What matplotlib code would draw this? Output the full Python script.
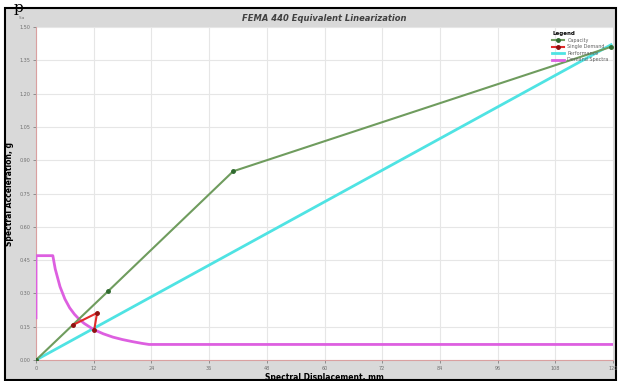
import numpy as np
import matplotlib.pyplot as plt
from matplotlib.patches import Rectangle

# capacity curve (Sd mm, Sa g)
cap_sd = [0, 15.0, 41.0, 119.5]
cap_sa = [0, 0.31, 0.85, 1.41]

# single demand
dem_sd = [7.7, 12.7, 12.1]
dem_sa = [0.158, 0.212, 0.135]

# performance line
perf_sd = [0, 119.6]
perf_sa = [0, 1.42]

# demand spectra
spec_sd = [0, 0, 3.5, 4.0, 5.0, 6.0, 7.0, 8.0, 9.0, 10.0, 12.0, 14.0, 16.0, 18.0,
           20.0, 22.0, 23.5, 120]
spec_sa = [0.19, 0.47, 0.47, 0.41, 0.33, 0.275, 0.235, 0.206, 0.183, 0.165, 0.137,
           0.118, 0.103, 0.092, 0.083, 0.075, 0.07, 0.07]

xticks = [0, 12, 24, 36, 48, 60, 72, 84, 96, 108, 120]
yticks = [0, 0.15, 0.30, 0.45, 0.60, 0.75, 0.90, 1.05, 1.20, 1.35, 1.50]

fig = plt.figure(figsize=(6.19, 3.81), dpi=100)
fig.patch.set_facecolor('white')

# grey panel + black frame of the screenshot
fig.patches.append(Rectangle((5/619, 1/381), 611/619, 372/381, transform=fig.transFigure,
                             facecolor='#d9d9d9', edgecolor='black', linewidth=1.5, zorder=-2))
fig.text(14/619, 1 - 1/381, 'p', fontsize=11, family='DejaVu Serif', va='top', ha='left')

ax = fig.add_axes([36/619, 1 - 360/381, 577/619, 333/381])
ax.set_facecolor('white')

l_cap, = ax.plot(cap_sd, cap_sa, color='#6f9c5e', lw=1.5, marker='o', ms=2.5,
                 mfc='#2f6a2f', mec='#2f6a2f', label='Capacity', zorder=4)
l_dem, = ax.plot(dem_sd, dem_sa, color='#e02a2a', lw=1.5, marker='o', ms=2.5,
                 mfc='#901010', mec='#901010', label='Single Demand', zorder=5)
l_perf, = ax.plot(perf_sd, perf_sa, color='#4fe3e3', lw=2, label='Performance', zorder=3)
l_spec, = ax.plot(spec_sd, spec_sa, color='#dd5fe0', lw=2, label='Demand Spectra', zorder=3)

ax.set_xlim(0, 120)
ax.set_ylim(0, 1.5)
ax.set_xticks(xticks)
ax.set_yticks(yticks)
ax.set_xticklabels([str(v) for v in xticks])
ax.set_yticklabels(['%.2f' % v for v in yticks])
ax.tick_params(labelsize=3.5, colors='#707070', length=2, width=0.5, pad=2)
ax.grid(True, color='#e6e6e6', lw=0.8)

for s in ['top', 'right']:
    ax.spines[s].set_visible(False)
for s in ['left', 'bottom']:
    ax.spines[s].set_color('#d9a0a0')
    ax.spines[s].set_linewidth(0.8)

ax.set_xlabel('Spectral Displacement, mm', fontsize=5.5, fontweight='bold', labelpad=2)
ax.set_ylabel('Spectral Acceleration, g', fontsize=5.5, fontweight='bold', labelpad=4)
ax.set_title('FEMA 440 Equivalent Linearization', fontsize=6, fontweight='bold',
             style='italic', color='#404040', pad=4)
fig.text(22/619, 1 - 18/381, 'S.a', fontsize=3, color='#707070', ha='center', va='center')

leg = ax.legend(handles=[l_cap, l_dem, l_perf, l_spec], loc='upper right', fontsize=3.5,
                title='Legend', frameon=False, handlelength=2.5, borderaxespad=0.5,
                labelspacing=0.3, handletextpad=0.6, alignment='left')
leg.get_title().set_fontsize(4)
leg.get_title().set_fontweight('bold')
for t in leg.get_texts():
    t.set_color('#606060')

plt.savefig('out.png', dpi=100)
